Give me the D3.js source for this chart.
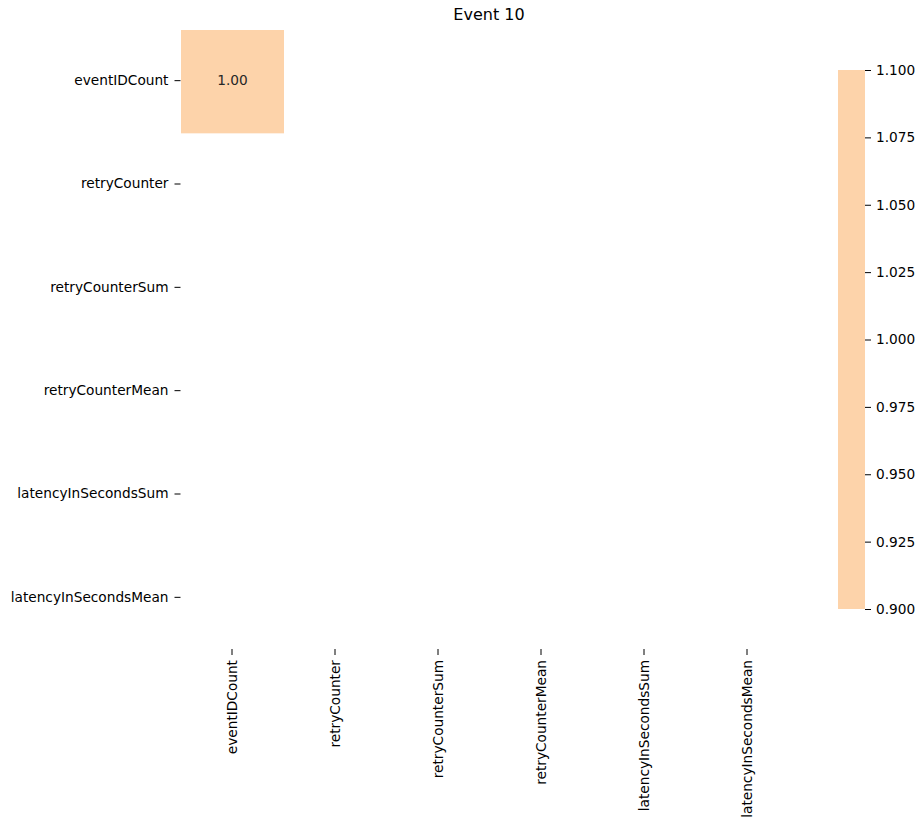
<!DOCTYPE html>
<html><head><meta charset="utf-8">
<script src="https://cdn.jsdelivr.net/npm/d3@7"></script>
<style>body{margin:0;background:#fff}svg{display:block}text{font-family:"DejaVu Sans",sans-serif}</style>
</head><body><svg id="c" width="924" height="829"></svg>
<script>
const categories = ["eventIDCount","retryCounter","retryCounterSum","retryCounterMean","latencyInSecondsSum","latencyInSecondsMean"];
// correlation values (null = NaN, not drawn)
const values = [
  [1.00, null, null, null, null, null],
  [null, null, null, null, null, null],
  [null, null, null, null, null, null],
  [null, null, null, null, null, null],
  [null, null, null, null, null, null],
  [null, null, null, null, null, null]
];
const colorDomain = [0.9, 1.1];
const colorTicks = [0.900, 0.925, 0.950, 0.975, 1.000, 1.025, 1.050, 1.075, 1.100];
const title = "Event 10";

(function(){
const svg = d3.select("#c");
const fs = "13.7px";
const mLeft = 181, mRight = 799, mTop = 30, mBottom = 650;
const x = d3.scaleBand().domain(categories).range([mLeft, mRight]);
const y = d3.scaleBand().domain(categories).range([mTop, mBottom]);
const color = () => "#fdd3aa";

const cells = [];
values.forEach((row, i) => row.forEach((v, j) => { if (v !== null) cells.push({r: categories[i], c: categories[j], v}); }));

svg.selectAll("rect.cell").data(cells).enter().append("rect")
  .attr("x", d => x(d.c)).attr("y", d => y(d.r))
  .attr("width", x.bandwidth()).attr("height", y.bandwidth())
  .attr("fill", d => color(d.v));
svg.selectAll("text.ann").data(cells).enter().append("text")
  .attr("x", d => x(d.c) + x.bandwidth()/2).attr("y", d => y(d.r) + y.bandwidth()/2)
  .attr("text-anchor", "middle").attr("dy", "0.25em")
  .attr("font-size", fs).attr("fill", "#262626")
  .text(d => d.v.toFixed(2));

const yAxis = d3.axisLeft(y).tickSize(6).tickPadding(6);
const gy = svg.append("g").attr("transform", `translate(${mLeft - 0.5},-1)`).call(yAxis);
gy.select(".domain").remove();
gy.selectAll("text").attr("font-size", fs).attr("fill", "#000").style("font-family", "DejaVu Sans");
gy.selectAll("line").attr("stroke", "#000").attr("stroke-width", 1);

const xAxis = d3.axisBottom(x).tickSize(6).tickPadding(6);
const gx = svg.append("g").attr("transform", `translate(-0.5,${mBottom - 1})`).call(xAxis);
gx.select(".domain").remove();
gx.selectAll("line").attr("stroke", "#000").attr("stroke-width", 1);
gx.selectAll("text").attr("font-size", fs).attr("fill", "#000").style("font-family", "DejaVu Sans")
  .attr("transform", "rotate(-90)").attr("text-anchor", "end").attr("dy", "0.35em")
  .attr("x", -11).attr("y", 0);

svg.append("text").attr("x", (mLeft+mRight)/2 - 1).attr("y", 20).attr("text-anchor", "middle")
  .attr("font-size", "16px").attr("fill", "#000").text(title);

const cbx = 838, cbw = 27, cbTop = 70, cbBottom = 609;
const cy = d3.scaleLinear().domain(colorDomain).range([cbBottom, cbTop]);
svg.append("rect").attr("x", cbx).attr("y", cbTop).attr("width", cbw).attr("height", cbBottom - cbTop)
  .attr("fill", color(1.0));
const cAxis = d3.axisRight(cy).tickValues(colorTicks).tickFormat(d3.format(".3f")).tickSize(6).tickPadding(5);
const gc = svg.append("g").attr("transform", `translate(${cbx+cbw},0)`).call(cAxis);
gc.select(".domain").remove();
gc.selectAll("line").attr("stroke", "#000").attr("stroke-width", 1);
gc.selectAll("text").attr("font-size", fs).attr("fill", "#000").style("font-family", "DejaVu Sans");
})();
</script></body></html>
